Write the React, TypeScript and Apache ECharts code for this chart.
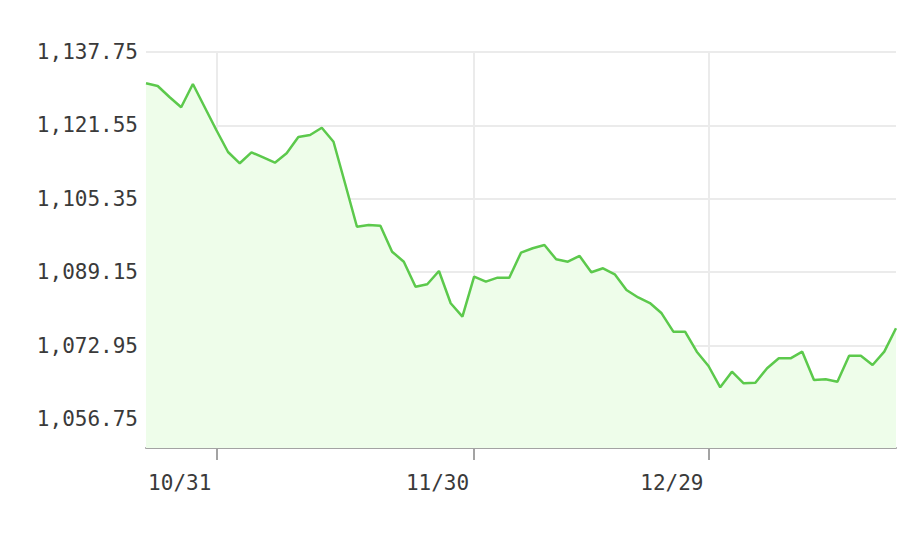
import React, { useEffect, useRef } from "react";
import * as echarts from "echarts";

const dates: string[] = [
  "10/21", "10/24", "10/25", "10/26", "10/27", "10/28", "10/31",
  "11/1", "11/2", "11/3", "11/4", "11/7", "11/8", "11/9", "11/10", "11/11",
  "11/14", "11/15", "11/16", "11/17", "11/18", "11/21", "11/22", "11/23",
  "11/24", "11/25", "11/28", "11/29", "11/30",
  "12/1", "12/2", "12/5", "12/6", "12/7", "12/8", "12/9", "12/12", "12/13",
  "12/14", "12/15", "12/16", "12/19", "12/20", "12/21", "12/22", "12/23",
  "12/27", "12/28", "12/29",
  "1/2", "1/3", "1/4", "1/5", "1/6", "1/9", "1/10", "1/11", "1/12", "1/13",
  "1/16", "1/17", "1/18", "1/19", "1/20", "1/23",
];

const values: number[] = [
  1130.84, 1130.25, 1127.82, 1125.55, 1130.69, 1125.61, 1120.54, 1115.68,
  1113.19, 1115.61, 1114.47, 1113.32, 1115.39, 1118.99, 1119.43, 1121.04,
  1117.95, 1108.62, 1099.19, 1099.57, 1099.41, 1093.68, 1091.47, 1085.95,
  1086.48, 1089.42, 1082.29, 1079.33, 1088.16, 1087.06, 1087.94, 1087.94,
  1093.46, 1094.43, 1095.15, 1092.0, 1091.47, 1092.73, 1089.13, 1090.01,
  1088.69, 1085.22, 1083.57, 1082.35, 1080.08, 1076.02, 1076.02, 1071.61,
  1068.45, 1063.75, 1067.19, 1064.63, 1064.76, 1067.94, 1070.15, 1070.15,
  1071.61, 1065.36, 1065.51, 1064.98, 1070.72, 1070.72, 1068.67, 1071.61,
  1076.77,
];

const yTicks: number[] = [1056.75, 1072.95, 1089.15, 1105.35, 1121.55, 1137.75];
const xTickLabels: string[] = ["10/31", "11/30", "12/29"];

const Y_MIN = 1050.35;
const Y_MAX = 1137.75;

export default function App() {
  const ref = useRef<HTMLDivElement>(null);

  useEffect(() => {
    if (!ref.current) return;
    const chart = echarts.init(ref.current, undefined, { renderer: "svg" });
    const shown = (idx: number) => xTickLabels.includes(dates[idx]);
    const fmt = (v: number) =>
      v.toLocaleString("en-US", { minimumFractionDigits: 2, maximumFractionDigits: 2 });

    chart.setOption({
      animation: false,
      backgroundColor: "#ffffff",
      grid: { left: 146, right: 4, top: 52, bottom: 110, containLabel: false },
      xAxis: {
        type: "category",
        data: dates,
        boundaryGap: false,
        axisLine: { show: true, lineStyle: { color: "#a3a3a3", width: 2 } },
        axisTick: {
          show: true,
          interval: (idx: number) => shown(idx),
          length: 12,
          lineStyle: { color: "#a3a3a3", width: 2 },
        },
        axisLabel: {
          interval: (idx: number) => shown(idx),
          color: "#3a3a3a",
          fontFamily: "DejaVu Sans Mono",
          fontSize: 21,
          align: "right",
          padding: [0, 5, 0, 0],
          margin: 24,
        },
        splitLine: {
          show: true,
          interval: (idx: number) => shown(idx),
          lineStyle: { color: "#ebebeb", width: 2 },
        },
      },
      yAxis: {
        type: "value",
        min: Y_MIN,
        max: Y_MAX,
        axisLine: { show: false },
        axisTick: { show: false, customValues: yTicks },
        axisLabel: {
          customValues: yTicks,
          formatter: (v: number) => fmt(v),
          color: "#3a3a3a",
          fontFamily: "DejaVu Sans Mono",
          fontSize: 21,
          margin: 8,
        },
        splitLine: { show: true, lineStyle: { color: "#ebebeb", width: 2 } },
      },
      series: [
        {
          type: "line",
          data: values,
          symbol: "none",
          smooth: false,
          lineStyle: { color: "#5cc94c", width: 2.5 },
          areaStyle: { color: "#eefdea", opacity: 1 },
        },
      ],
    });
    return () => chart.dispose();
  }, []);

  return (
    <div
      ref={ref}
      style={{ position: "fixed", left: 0, top: 0, width: 900, height: 558 }}
    />
  );
}
